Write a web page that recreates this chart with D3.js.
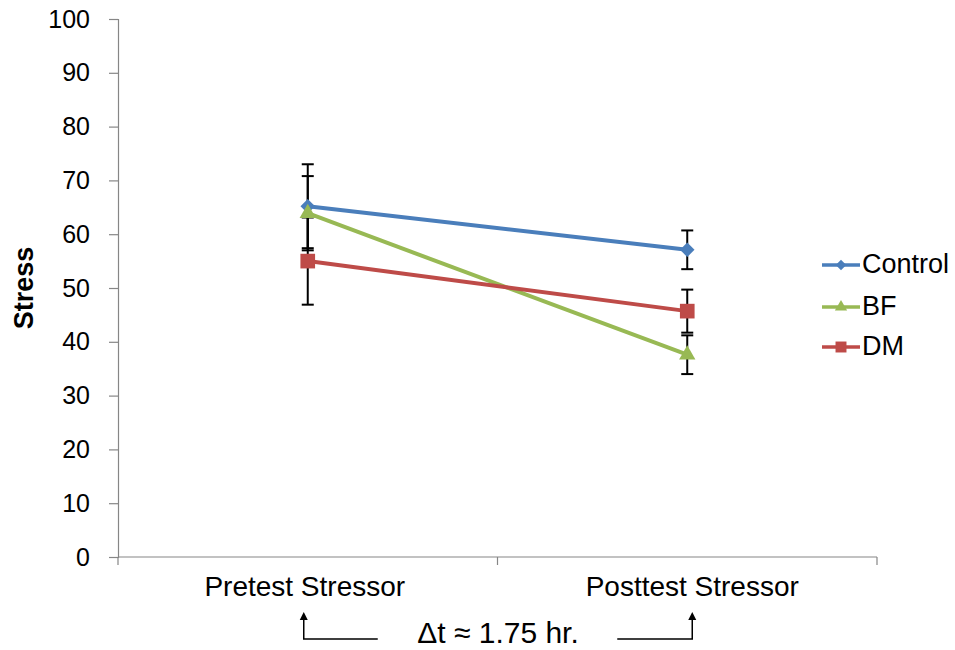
<!DOCTYPE html>
<html>
<head>
<meta charset="utf-8">
<script src="https://cdn.jsdelivr.net/npm/d3@7"></script>
<style>
  html, body { margin: 0; padding: 0; background: #fff; }
  svg text { font-family: "Liberation Sans", Arial, sans-serif; fill: #000; }
</style>
</head>
<body>
<svg id="chart" width="955" height="650"></svg>
<script>
// Measurement occasions
const categories = ["Pretest Stressor", "Posttest Stressor"];
// Group means and error-bar half-widths
const seriesNames = ["Control", "BF", "DM"];
const controlValues = [65.2, 57.1];
const controlErrors = [7.8, 3.6];
const bfValues = [63.9, 37.6];
const bfErrors = [6.9, 3.6];
const dmValues = [55.0, 45.7];
const dmErrors = [8.1, 4.0];
const yTicks = [0, 10, 20, 30, 40, 50, 60, 70, 80, 90, 100];
const colors = ["#4a7ebb", "#98b954", "#be4b48"];

// Marker shapes: diamond is a square turned 45 degrees
const markers = [
  { type: d3.symbolSquare, rotate: 45, size: 105, legendSize: 55 },
  { type: d3.symbolTriangle, rotate: 0, size: 115, legendSize: 65 },
  { type: d3.symbolSquare, rotate: 0, size: 215, legendSize: 120 }
];

const series = seriesNames.map((name, i) => ({
  name,
  color: colors[i],
  marker: markers[i],
  values: [controlValues, bfValues, dmValues][i],
  errors: [controlErrors, bfErrors, dmErrors][i]
}));

const svg = d3.select("#chart");
const plotLeft = 118, plotRight = 877, plotTop = 19, plotBottom = 557;

const x = d3.scaleBand().domain(categories).range([plotLeft, plotRight]);
const y = d3.scaleLinear().domain([0, 100]).range([plotBottom, plotTop]);
const cx = c => x(c) + x.bandwidth() / 2;

// Y axis
const yAxis = svg.append("g")
  .attr("transform", `translate(${plotLeft},0)`)
  .call(d3.axisLeft(y).tickValues(yTicks).tickSize(9).tickPadding(19));
yAxis.select(".domain").attr("stroke", "#868686").attr("stroke-width", 1.2);
yAxis.selectAll(".tick line").attr("stroke", "#868686").attr("stroke-width", 1.2);
yAxis.selectAll(".tick text").attr("font-size", 25).attr("fill", "#000");

// X axis with tick marks at category boundaries
const xAxisG = svg.append("g").attr("transform", `translate(0,${plotBottom})`);
xAxisG.append("line").attr("x1", plotLeft).attr("x2", plotRight).attr("stroke", "#868686").attr("stroke-width", 1.2);
const bounds = categories.map(c => x(c)).concat([plotRight]);
xAxisG.selectAll("line.tk").data(bounds).join("line")
  .attr("class", "tk")
  .attr("x1", d => d).attr("x2", d => d).attr("y1", 0).attr("y2", 8)
  .attr("stroke", "#868686").attr("stroke-width", 1.2);
const labelShift = [-3, 5];
xAxisG.selectAll("text").data(categories).join("text")
  .attr("x", (d, i) => cx(d) + labelShift[i]).attr("y", 39)
  .attr("text-anchor", "middle").attr("font-size", 28)
  .text(d => d);

// Y axis title
svg.append("text")
  .attr("transform", `translate(33,288) rotate(-90)`)
  .attr("text-anchor", "middle").attr("font-size", 27).attr("font-weight", "bold")
  .text("Stress");

// Error bars
const eb = svg.append("g");
series.forEach(s => {
  categories.forEach((c, j) => {
    const xc = cx(c), lo = y(s.values[j] - s.errors[j]), hi = y(s.values[j] + s.errors[j]);
    eb.append("line").attr("x1", xc).attr("x2", xc).attr("y1", lo).attr("y2", hi)
      .attr("stroke", "#000").attr("stroke-width", 2);
    [lo, hi].forEach(yy => eb.append("line")
      .attr("x1", xc - 6).attr("x2", xc + 6).attr("y1", yy).attr("y2", yy)
      .attr("stroke", "#000").attr("stroke-width", 2));
  });
});

// Lines and markers
const line = d3.line().x((d, j) => cx(categories[j])).y(d => y(d));
series.forEach(s => {
  svg.append("path").datum(s.values)
    .attr("d", line).attr("fill", "none")
    .attr("stroke", s.color).attr("stroke-width", 4);
  svg.selectAll(null).data(s.values).join("path")
    .attr("transform", (d, j) => `translate(${cx(categories[j])},${y(d)}) rotate(${s.marker.rotate})`)
    .attr("d", d3.symbol().type(s.marker.type).size(s.marker.size))
    .attr("fill", s.color);
});

// Legend
const legend = svg.append("g").attr("transform", "translate(822,0)");
const legendY = [265, 307, 347];
series.forEach((s, i) => {
  const g = legend.append("g").attr("transform", `translate(0,${legendY[i]})`);
  g.append("line").attr("x1", 0).attr("x2", 38).attr("stroke", s.color).attr("stroke-width", 3.5);
  g.append("path").attr("transform", `translate(19,0) rotate(${s.marker.rotate})`)
    .attr("d", d3.symbol().type(s.marker.type).size(s.marker.legendSize))
    .attr("fill", s.color);
  g.append("text").attr("x", 40).attr("y", 8).attr("font-size", 27).text(s.name);
});

// Time-interval annotation between the two occasions
const ann = svg.append("g").attr("stroke", "#000").attr("stroke-width", 1.5).attr("fill", "none");
const ax1 = cx(categories[0]) - 4, ax2 = cx(categories[1]) + 5, ay = 639, atop = 612;
ann.append("path").attr("d", `M${ax1 + 74},${ay} H${ax1} V${atop + 6}`);
ann.append("path").attr("d", `M${ax2 - 75},${ay} H${ax2} V${atop + 6}`);
[ax1, ax2].forEach(ax => svg.append("path")
  .attr("d", `M${ax - 4},${atop + 8} L${ax},${atop} L${ax + 4},${atop + 8} Z`).attr("fill", "#000"));
svg.append("text").attr("x", 498).attr("y", 643).attr("text-anchor", "middle")
  .attr("font-size", 30).text("Δt ≈ 1.75 hr.");
</script>
</body>
</html>
